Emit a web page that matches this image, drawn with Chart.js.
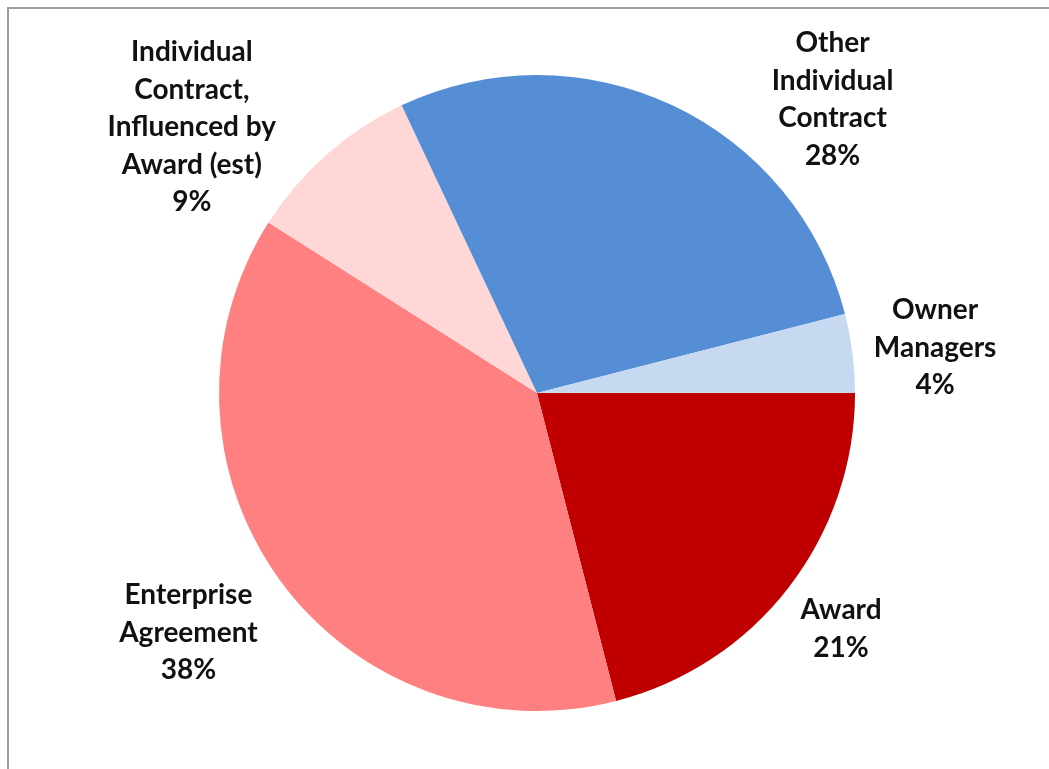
<!DOCTYPE html>
<html>
<head>
<meta charset="utf-8">
<title>Employment arrangements</title>
<script src="https://cdn.jsdelivr.net/npm/chart.js@4"></script>
<style>
  html, body { margin: 0; padding: 0; background: #fff; overflow: hidden; }
  #wrap { position: relative; width: 1049px; height: 769px; }
  #frame {
    position: absolute; left: 7px; top: 7px; width: 1060px; height: 780px;
    border-top: 2px solid #9d9d9d; border-left: 2px solid #9d9d9d;
    pointer-events: none;
  }
</style>
</head>
<body>
<div id="wrap">
  <canvas id="pie" width="1049" height="769"></canvas>
  <div id="frame"></div>
</div>
<script>
// slices, clockwise from 3 o'clock
const categories = [
  ['Award'],
  ['Enterprise', 'Agreement'],
  ['Individual', 'Contract,', 'Influenced by', 'Award (est)'],
  ['Other', 'Individual', 'Contract'],
  ['Owner', 'Managers']
];
const shares = [21, 38, 9, 28, 4];
const sliceColors = ['#c00000', '#ff8080', '#ffd7d7', '#558ed5', '#c6d9f1'];

// where each label sits: extra turn (deg) off the slice middle, distance in radii
const labelPlacement = [
  { turn: 0, reach: 1.21 },
  { turn: 1.5, reach: 1.33 },
  { turn: -11, reach: 1.37 },
  { turn: 20, reach: 1.31 },
  { turn: 0.7, reach: 1.26 }
];

const outsideLabels = {
  id: 'outsideLabels',
  afterDatasetsDraw(chart) {
    const ctx = chart.ctx;
    const meta = chart.getDatasetMeta(0);
    const values = chart.data.datasets[0].data;
    const total = values.reduce((a, b) => a + b, 0);
    ctx.save();
    ctx.font = 'bold 28px Lato';
    ctx.fillStyle = '#111';
    ctx.textAlign = 'center';
    ctx.textBaseline = 'middle';
    const lineH = 37.5;
    meta.data.forEach((arc, i) => {
      const p = arc.getProps(['x', 'y', 'startAngle', 'endAngle', 'outerRadius'], true);
      const place = labelPlacement[i];
      const mid = (p.startAngle + p.endAngle) / 2 + place.turn * Math.PI / 180;
      const cx = p.x + Math.cos(mid) * p.outerRadius * place.reach;
      const cy = p.y + Math.sin(mid) * p.outerRadius * place.reach;
      const lines = chart.data.labels[i].concat(Math.round(values[i] / total * 100) + '%');
      const top = cy - (lines.length - 1) * lineH / 2;
      lines.forEach((txt, k) => ctx.fillText(txt, cx, top + k * lineH));
    });
    ctx.restore();
  }
};

new Chart(document.getElementById('pie'), {
  type: 'pie',
  data: {
    labels: categories,
    datasets: [{
      data: shares,
      backgroundColor: sliceColors,
      borderWidth: 0
    }]
  },
  options: {
    responsive: false,
    animation: false,
    rotation: 90,
    layout: { padding: { left: 219, right: 194, top: 75, bottom: 58 } },
    plugins: {
      legend: { display: false },
      tooltip: { enabled: false }
    }
  },
  plugins: [outsideLabels]
});
</script>
</body>
</html>
